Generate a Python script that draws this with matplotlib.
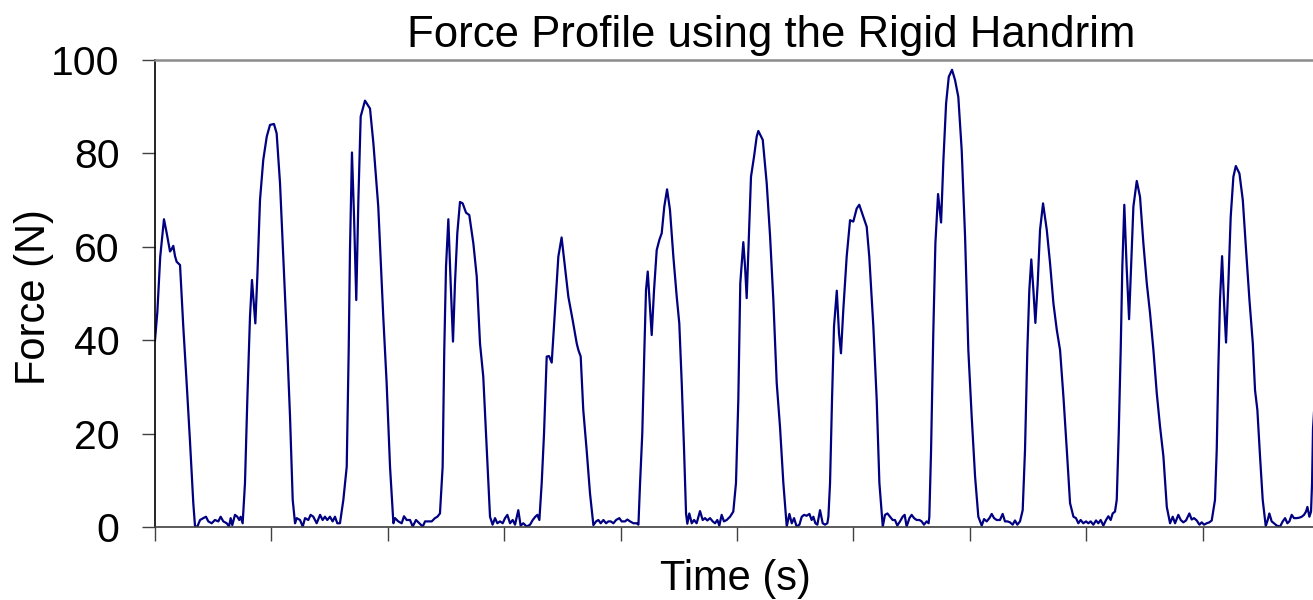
import numpy as np
import matplotlib
matplotlib.use("Agg")
import matplotlib.pyplot as plt

plt.rcParams['font.family'] = ['Liberation Sans', 'DejaVu Sans']

# force signal, one push (with the rest before it) per segment
seg01_t = [0.0, 0.02, 0.045, 0.077, 0.1, 0.129, 0.143, 0.157, 0.172, 0.186, 0.215, 0.243, 0.272, 0.30, 0.329, 0.344]
seg01_f = [40.0, 46.0, 57.9, 65.9, 63.0, 59.0, 59.5, 60.2, 58.0, 56.8, 56.1, 42.9, 30.8, 18.6, 5.1, 0.1]

seg02_t = [0.364, 0.387, 0.415, 0.438, 0.458, 0.487, 0.515, 0.544, 0.564, 0.587, 0.616, 0.636, 0.65, 0.664, 0.687, 0.707, 0.724, 0.736, 0.753,
           0.773, 0.793, 0.816, 0.833, 0.862, 0.879, 0.902, 0.930, 0.96, 0.988, 1.022, 1.045, 1.074, 1.102, 1.131, 1.16, 1.183, 1.203]
seg02_f = [0.1, 1.5, 1.9, 2.2, 1.2, 0.8, 1.5, 1.2, 2.2, 1.2, 0.8, 0.1, 1.9, 0.4, 2.6, 2.2, 1.5, 2.2, 0.8,
           9.4, 27.2, 45.0, 52.9, 43.6, 53.6, 70.0, 78.6, 83.6, 86.1, 86.3, 84.3, 73.6, 57.9, 41.5, 23.6, 5.8, 0.8]

seg03_t = [1.217, 1.246, 1.269, 1.289, 1.317, 1.337, 1.36, 1.389, 1.418, 1.44, 1.46, 1.48, 1.503, 1.526, 1.546, 1.566, 1.589,
           1.618, 1.647, 1.664, 1.675, 1.692, 1.71, 1.729, 1.747, 1.767, 1.804, 1.847, 1.876, 1.918, 1.961, 1.99, 2.019, 2.048]
seg03_f = [1.9, 1.5, 0.1, 1.9, 1.5, 2.6, 2.2, 0.8, 2.6, 1.5, 2.2, 1.5, 2.2, 1.2, 2.2, 0.8, 0.8,
           5.8, 12.9, 37.9, 59.3, 80.2, 66.4, 48.6, 70.0, 87.9, 91.3, 89.6, 82.2, 68.6, 45.0, 30.8, 12.9, 0.8]

seg04_t = [2.062, 2.09, 2.119, 2.139, 2.162, 2.191, 2.214, 2.242, 2.271, 2.3, 2.32, 2.348, 2.377, 2.405, 2.426, 2.448,
           2.471, 2.485, 2.5, 2.52, 2.54, 2.56, 2.577, 2.597, 2.62, 2.643, 2.672, 2.7, 2.735, 2.764, 2.792, 2.82, 2.85, 2.878, 2.9]
seg04_f = [1.9, 1.2, 0.8, 2.3, 1.5, 1.5, 0.1, 1.5, 0.8, 0.1, 1.2, 1.2, 1.2, 1.9, 2.2, 2.9,
           12.9, 37.9, 55.7, 65.9, 52.2, 39.7, 52.2, 62.9, 69.6, 69.3, 67.3, 66.8, 60.7, 53.6, 39.3, 32.2, 16.5, 2.2, 0.5]

seg05_t = [2.921, 2.941, 2.964, 2.987, 3.007, 3.027, 3.05, 3.073, 3.093, 3.121, 3.141, 3.164, 3.193, 3.222, 3.245, 3.267, 3.285, 3.302,
           3.322, 3.342, 3.365, 3.385, 3.408, 3.436, 3.465, 3.493, 3.522, 3.551, 3.588, 3.623, 3.637, 3.657, 3.679, 3.708, 3.737, 3.766]
seg05_f = [1.9, 0.8, 1.2, 0.8, 1.9, 2.6, 0.8, 1.5, 0.5, 3.6, 0.3, 0.8, 0.1, 0.5, 1.5, 2.2, 2.6, 1.5,
           9.4, 20.0, 36.5, 36.6, 35.2, 46.5, 57.9, 62.0, 55.7, 49.3, 44.3, 39.3, 37.9, 36.5, 25.1, 16.5, 7.2, 0.4]

seg06_t = [3.789, 3.809, 3.829, 3.852, 3.875, 3.895, 3.915, 3.938, 3.961, 3.989, 4.009, 4.038, 4.058, 4.081, 4.11, 4.138, 4.153,
           4.167, 4.186, 4.204, 4.218, 4.233, 4.253, 4.267, 4.287, 4.31, 4.333, 4.353, 4.375, 4.399, 4.424, 4.453, 4.482, 4.504,
           4.525, 4.545, 4.562, 4.573]
seg06_f = [1.2, 1.5, 0.8, 1.5, 0.8, 1.2, 1.2, 0.8, 1.5, 1.9, 1.2, 1.2, 1.6, 1.2, 0.8, 0.8, 0.5,
           9.4, 20.0, 37.9, 50.7, 54.7, 46.5, 41.1, 50.7, 59.3, 61.5, 62.9, 68.6, 72.3, 67.9, 57.9, 49.3, 43.6,
           30.8, 16.5, 2.9, 0.7]

seg07_t = [4.59, 4.611, 4.631, 4.653, 4.682, 4.705, 4.725, 4.745, 4.768, 4.791, 4.811, 4.831, 4.848, 4.868, 4.888, 4.911, 4.94, 4.968,
           4.991, 5.011, 5.028, 5.054, 5.069, 5.083, 5.103, 5.12, 5.146, 5.169, 5.183, 5.221, 5.255, 5.284, 5.312, 5.341, 5.369, 5.398, 5.427]
seg07_f = [2.9, 0.8, 1.5, 0.8, 3.4, 1.5, 1.9, 1.4, 1.9, 1.2, 0.8, 1.5, 0.3, 2.6, 1.2, 1.5, 2.2, 3.3,
           9.4, 27.2, 52.2, 61.0, 55.7, 49.0, 62.9, 75.0, 79.3, 83.6, 84.8, 82.9, 73.6, 62.2, 48.6, 30.8, 21.5, 9.4, 0.1]

seg08_t = [5.45, 5.47, 5.49, 5.512, 5.536, 5.556, 5.576, 5.598, 5.622, 5.641, 5.656, 5.673, 5.69, 5.713, 5.736, 5.756, 5.776,
           5.785, 5.799, 5.816, 5.833, 5.857, 5.876, 5.893, 5.913, 5.942, 5.971, 5.999, 6.028, 6.05, 6.08, 6.114, 6.136,
           6.171, 6.2, 6.223, 6.252]
seg08_f = [2.8, 0.8, 1.9, 0.1, 0.5, 2.2, 2.6, 2.4, 2.8, 1.5, 2.2, 0.8, 0.5, 3.6, 0.8, 0.5, 0.8,
           2.2, 9.4, 27.2, 42.9, 50.6, 41.5, 37.2, 46.5, 57.9, 65.7, 65.4, 68.2, 69.0, 66.8, 64.3, 57.9,
           43.0, 27.2, 9.4, 0.1]

seg09_t = [6.271, 6.292, 6.314, 6.337, 6.357, 6.377, 6.4, 6.423, 6.44, 6.457, 6.481, 6.5, 6.521, 6.543, 6.567, 6.586, 6.606, 6.629, 6.646,
           6.652, 6.667, 6.686, 6.704, 6.727, 6.753, 6.773, 6.796, 6.819, 6.847, 6.873, 6.901, 6.93, 6.959, 6.987, 7.016, 7.045, 7.073, 7.102]
seg09_f = [2.6, 2.9, 2.2, 1.5, 1.5, 0.3, 1.2, 2.2, 2.6, 0.1, 1.9, 2.6, 1.9, 1.5, 1.5, 1.2, 0.5, 1.2, 0.8,
           2.2, 16.5, 41.5, 60.7, 71.3, 65.2, 78.6, 90.7, 96.4, 97.9, 95.7, 92.1, 80.7, 62.2, 37.9, 23.6, 10.8, 2.2, 0.3]

seg10_t = [7.122, 7.145, 7.168, 7.188, 7.208, 7.231, 7.259, 7.282, 7.302, 7.323, 7.345, 7.368, 7.388, 7.408, 7.431,
           7.454, 7.474, 7.494, 7.511, 7.528, 7.546, 7.563, 7.583, 7.603, 7.629, 7.661, 7.689, 7.718, 7.747, 7.775, 7.804,
           7.833, 7.861, 7.89]
seg10_f = [1.7, 1.2, 1.9, 2.8, 1.9, 1.5, 1.5, 2.8, 1.2, 1.2, 1.0, 0.5, 1.4, 0.5, 1.2,
           3.6, 16.5, 37.9, 50.7, 57.3, 50.7, 43.7, 52.2, 63.6, 69.3, 63.6, 56.5, 47.9, 42.2, 37.9, 27.9,
           16.5, 5.1, 2.2]

seg11_t = [7.912, 7.932, 7.952, 7.975, 7.998, 8.018, 8.038, 8.061, 8.084, 8.104, 8.124, 8.147, 8.17, 8.19, 8.21, 8.227, 8.247,
           8.262, 8.279, 8.296, 8.31, 8.327, 8.347, 8.368, 8.385, 8.405, 8.434, 8.462, 8.491, 8.52, 8.548, 8.577, 8.606,
           8.634, 8.663, 8.692, 8.72]
seg11_f = [1.9, 0.8, 1.5, 0.8, 1.2, 0.8, 1.2, 0.5, 1.4, 0.8, 1.5, 0.3, 1.5, 2.3, 1.5, 2.9, 3.3,
           5.8, 20.0, 37.9, 55.7, 69.0, 55.7, 44.5, 55.7, 68.6, 74.1, 70.7, 60.7, 52.2, 45.8, 37.9, 28.6,
           21.5, 15.1, 4.3, 0.8]

seg12_t = [8.743, 8.763, 8.791, 8.812, 8.834, 8.857, 8.886, 8.906, 8.926, 8.949, 8.972, 8.992, 9.012, 9.035, 9.058, 9.078,
           9.106, 9.121, 9.135, 9.149, 9.167, 9.184, 9.201, 9.221, 9.241, 9.264, 9.285, 9.316, 9.345, 9.373, 9.402,
           9.431, 9.45, 9.47, 9.493, 9.516, 9.542]
seg12_f = [2.2, 0.8, 2.6, 1.5, 1.0, 1.4, 2.9, 1.6, 1.9, 1.4, 0.5, 1.0, 0.5, 0.8, 1.0, 1.4,
           5.8, 16.5, 34.3, 48.6, 58.0, 47.9, 39.5, 52.2, 66.4, 75.0, 77.3, 75.7, 70.0, 59.3, 48.6,
           39.3, 29.3, 25.1, 15.1, 5.8, 0.2]

seg13_t = [9.559, 9.573, 9.593, 9.613, 9.636, 9.665, 9.688, 9.708, 9.728, 9.745, 9.765, 9.785, 9.808, 9.831, 9.851,
           9.871, 9.888, 9.9, 9.917, 9.931, 9.94, 9.948, 9.96]
seg13_f = [1.5, 2.9, 1.2, 0.8, 0.3, 0.1, 1.2, 1.9, 0.8, 1.2, 2.6, 1.9, 1.9, 2.0, 2.2,
           2.6, 3.3, 4.3, 2.2, 3.3, 9.4, 21.0, 26.0]

y_ticks = [0, 20, 40, 60, 80, 100]
x_ticks = list(range(10))

time_s = np.concatenate([seg01_t, seg02_t, seg03_t, seg04_t, seg05_t, seg06_t, seg07_t,
                         seg08_t, seg09_t, seg10_t, seg11_t, seg12_t, seg13_t])
force_n = np.concatenate([seg01_f, seg02_f, seg03_f, seg04_f, seg05_f, seg06_f, seg07_f,
                          seg08_f, seg09_f, seg10_f, seg11_f, seg12_f, seg13_f])

W, H = 1313, 600
fig = plt.figure(figsize=(W / 100, H / 100), dpi=100)
ax = fig.add_axes([155 / W, 73 / H, 1158 / W, 467 / H])

ax.plot(time_s, force_n, color='#000080', lw=1.6)

ax.set_xlim(0, 9.948)
ax.set_ylim(0, 100)
ax.set_xticks(x_ticks)
ax.set_yticks(y_ticks)
ax.tick_params(axis='x', direction='out', length=10, width=1, labelbottom=False, color='#404040')
ax.tick_params(axis='y', direction='out', length=9.5, width=1, pad=16, labelsize=29.5, color='#404040')

ax.spines['right'].set_visible(False)
ax.spines['top'].set_color('#8c8c8c')
ax.spines['top'].set_linewidth(1.8)
ax.spines['left'].set_color('black')
ax.spines['bottom'].set_color('#404040')
ax.spines['left'].set_linewidth(1.2)
ax.spines['bottom'].set_linewidth(1.2)

fig.text(771 / W, 1 - 47 / H, 'Force Profile using the Rigid Handrim', ha='center', va='baseline', fontsize=31.5)
fig.text(735 / W, 1 - 590 / H, 'Time (s)', ha='center', va='baseline', fontsize=30)
fig.text(34 / W, 1 - 297 / H, 'Force (N)', ha='center', va='center', rotation=90, fontsize=30)

fig.savefig('out.png', dpi=100)
